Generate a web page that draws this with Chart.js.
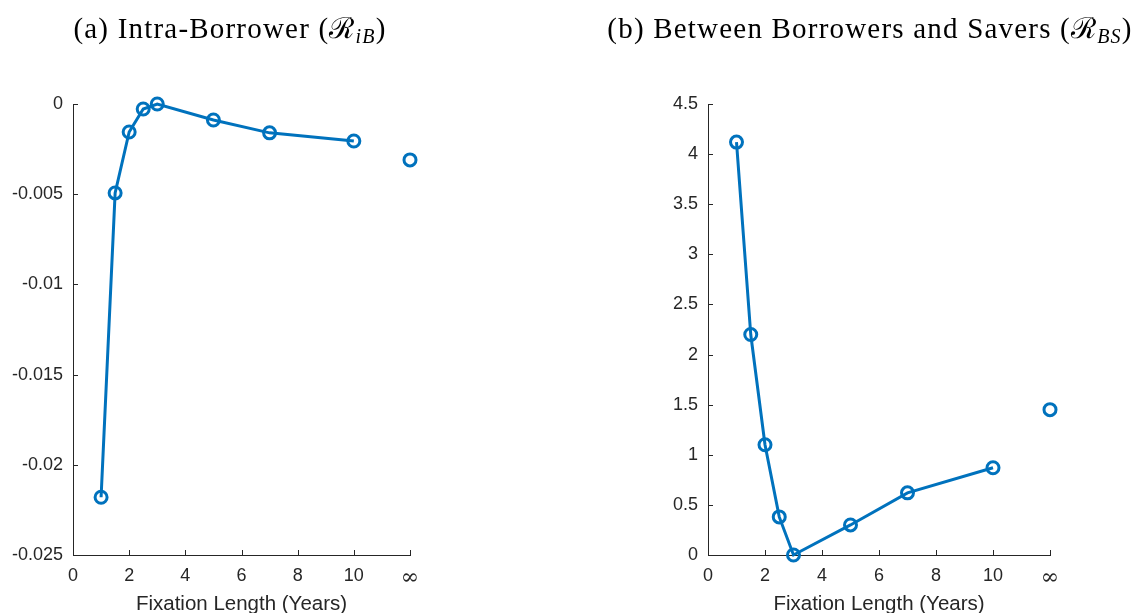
<!DOCTYPE html>
<html>
<head>
<meta charset="utf-8">
<script src="https://cdn.jsdelivr.net/npm/chart.js@4"></script>
<style>
    body { margin: 0; background: #fff; }
    .panel { position: absolute; top: 0; width: 568px; height: 613px; }
    .title {
        position: absolute; top: 7px; font-family: "Liberation Serif", serif;
        font-size: 29px; letter-spacing: 1.2px; color: #000; white-space: nowrap;
        transform: translateX(-50%);
    }
    .title sub { font-size: 20px; font-style: italic; vertical-align: -5px; }
</style>
</head>
<body>
<div class="panel" style="left:0"><canvas id="intra" width="568" height="613"></canvas></div>
<div class="panel" style="left:568px"><canvas id="between" width="568" height="613"></canvas></div>
<div class="title" style="left:230px">(a) Intra-Borrower (ℛ<sub>iB</sub>)</div>
<div class="title" style="left:870px">(b) Between Borrowers and Savers (ℛ<sub>BS</sub>)</div>
<script>
const fixationYears = [1, 1.5, 2, 2.5, 3, 5, 7, 10];
const infinityX = 12;
const intraBorrower = [-0.0218, -0.00493, -0.00155, -0.00028, 0, -0.00089, -0.0016, -0.00205];
const intraBorrowerInf = -0.0031;
const betweenBS = [4.12, 2.20, 1.10, 0.38, 0.0, 0.30, 0.62, 0.87];
const betweenBSInf = 1.45;

const BLUE = '#0072BD';
const AXIS = '#262626';

// MATLAB style ticks point into the plot area
const inwardTicks = {
    id: 'inwardTicks',
    afterDraw(chart) {
        const {ctx, chartArea, scales} = chart;
        ctx.save();
        ctx.strokeStyle = AXIS;
        ctx.lineWidth = 1;
        ctx.beginPath();
        scales.x.ticks.forEach(t => {
            const px = Math.round(scales.x.getPixelForValue(t.value)) + 0.5;
            ctx.moveTo(px, chartArea.bottom);
            ctx.lineTo(px, chartArea.bottom - 5);
        });
        scales.y.ticks.forEach(t => {
            const py = Math.round(scales.y.getPixelForValue(t.value)) + 0.5;
            ctx.moveTo(chartArea.left, py);
            ctx.lineTo(chartArea.left + 5, py);
        });
        ctx.stroke();
        ctx.restore();
    }
};

const makeChart = (canvas, values, infValue, yMin, yMax, yStep, yWidth, padRight) => {
    const tickFont = {family: 'Liberation Sans, Arial, sans-serif', size: 18};
    const xTickFont = c => (c.tick && c.tick.value === infinityX
        ? {family: 'DejaVu Serif, serif', size: 22}
        : tickFont);

    return new Chart(canvas, {
        type: 'scatter',
        data: {
            datasets: [{
                data: fixationYears.map((x, i) => ({x, y: values[i]})),
                showLine: true,
                borderColor: BLUE,
                borderWidth: 3,
                pointRadius: 6,
                pointBorderWidth: 3,
                pointBorderColor: BLUE,
                pointBackgroundColor: 'rgba(0,0,0,0)',
                clip: false
            }, {
                data: [{x: infinityX, y: infValue}],
                showLine: false,
                pointRadius: 6,
                pointBorderWidth: 3,
                pointBorderColor: BLUE,
                pointBackgroundColor: 'rgba(0,0,0,0)',
                clip: false
            }]
        },
        options: {
            responsive: false,
            animation: false,
            layout: {padding: {top: 104, right: padRight, left: 0, bottom: 0}},
            plugins: {legend: {display: false}, tooltip: {enabled: false}},
            scales: {
                x: {
                    type: 'linear',
                    min: 0,
                    max: 12,
                    grid: {display: false, drawTicks: false},
                    border: {display: true, color: AXIS, width: 1},
                    ticks: {
                        stepSize: 2,
                        color: AXIS,
                        font: xTickFont,
                        padding: 10,
                        maxRotation: 0,
                        callback: v => (v === infinityX ? '∞' : String(v))
                    },
                    title: {
                        display: true,
                        text: 'Fixation Length (Years)',
                        color: AXIS,
                        font: {family: 'Liberation Sans, Arial, sans-serif', size: 20.5},
                        padding: {top: 6, bottom: -4}
                    },
                    afterFit: scale => { scale.height = 58; }
                },
                y: {
                    type: 'linear',
                    min: yMin,
                    max: yMax,
                    grid: {display: false, drawTicks: false},
                    border: {display: true, color: AXIS, width: 1},
                    ticks: {
                        stepSize: yStep,
                        color: AXIS,
                        font: tickFont,
                        padding: 10,
                        callback: v => String(+v.toFixed(3))
                    },
                    afterFit: scale => { scale.width = yWidth; }
                }
            }
        },
        plugins: [inwardTicks]
    });
};

makeChart(document.getElementById('intra'), intraBorrower, intraBorrowerInf, -0.025, 0, 0.005, 73, 158);
makeChart(document.getElementById('between'), betweenBS, betweenBSInf, 0, 4.5, 0.5, 140, 86);
</script>
</body>
</html>
